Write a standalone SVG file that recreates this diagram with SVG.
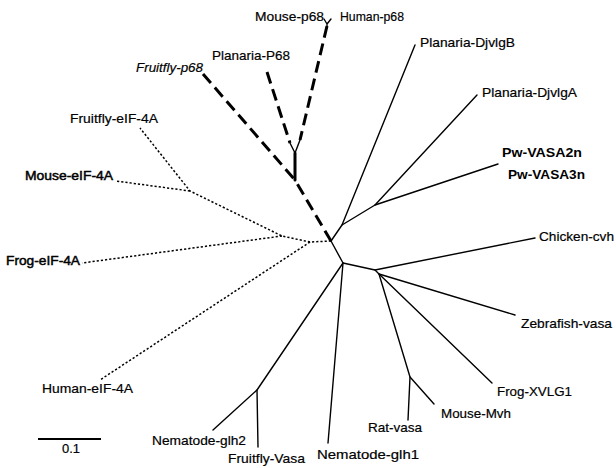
<svg xmlns="http://www.w3.org/2000/svg" width="616" height="468" viewBox="0 0 616 468">
<style>
.s{fill:none;stroke:#000;stroke-width:1.4;stroke-linecap:round;stroke-linejoin:round}
.d{fill:none;stroke:#000;stroke-width:1.5;stroke-dasharray:2.2 2}
.h{fill:none;stroke:#000;stroke-width:3;stroke-dasharray:12 6}
.hs{fill:none;stroke:#000;stroke-width:3;stroke-linecap:round}
text{font-family:"Liberation Sans",Arial,sans-serif;font-size:13.5px;fill:#000;stroke:#000;stroke-width:0.2}
.b{font-weight:bold;stroke-width:0}
.m{stroke-width:0.5}
.i{font-style:italic}
</style>
<rect width="616" height="468" fill="#fff"/>
<g id="connectors">
<path class="d" d="M331,241 L310,242 L282,236 L190,191 L140,128"/>
<path class="d" d="M190,191 L116,181"/>
<path class="d" d="M282,236 L82,263"/>
<path class="d" d="M310,242 L100,380"/>
<path class="h" d="M331,241 L295,180"/>
<path class="h" d="M203,74 L295,180"/>
<path class="hs" d="M295,180 L295,153"/>
<path class="h" d="M267,72 L290,143"/>
<path class="h" d="M327,26 L300,140"/>
<path class="s" d="M290,143 L295,153 L300,140"/>
<path class="s" d="M324,19 L327,24 L331,19 M327,24 L327,28"/>
<path class="s" d="M331,241 L342,225 L415,45"/>
<path class="s" d="M342,225 L375,205 L477,95"/>
<path class="s" d="M375,205 L498,164"/>
<path class="s" d="M331,241 L343,263 L328,443"/>
<path class="s" d="M343,263 L257,390 L213,430"/>
<path class="s" d="M257,390 L258,447"/>
<path class="s" d="M343,263 L375,270 L535,238"/>
<path class="s" d="M375,270 L379,274 L515,315"/>
<path class="s" d="M379,274 L492,383"/>
<path class="s" d="M379,274 L410,377 L408,420"/>
<path class="s" d="M410,377 L434,404"/>
</g>
<g id="n-fruitfly-p68"><text class="i" x="136" y="72" textLength="67" lengthAdjust="spacingAndGlyphs">Fruitfly-p68</text></g>
<g id="n-mouse-p68"><text x="255" y="21" textLength="69" lengthAdjust="spacingAndGlyphs">Mouse-p68</text></g>
<g id="n-human-p68"><text x="340" y="21" textLength="64" lengthAdjust="spacingAndGlyphs">Human-p68</text></g>
<g id="n-planaria-p68"><text x="212" y="60" textLength="78" lengthAdjust="spacingAndGlyphs">Planaria-P68</text></g>
<g id="n-djvlgb"><text x="420" y="47" textLength="95" lengthAdjust="spacingAndGlyphs">Planaria-DjvlgB</text></g>
<g id="n-djvlga"><text x="482" y="97" textLength="95" lengthAdjust="spacingAndGlyphs">Planaria-DjvlgA</text></g>
<g id="n-pw2"><text class="b" x="502" y="157" textLength="80" lengthAdjust="spacingAndGlyphs">Pw-VASA2n</text></g>
<g id="n-pw3"><text class="b" x="508" y="179" textLength="77" lengthAdjust="spacingAndGlyphs">Pw-VASA3n</text></g>
<g id="n-chicken"><text x="539" y="241" textLength="75" lengthAdjust="spacingAndGlyphs">Chicken-cvh</text></g>
<g id="n-zebrafish"><text x="521" y="328" textLength="91" lengthAdjust="spacingAndGlyphs">Zebrafish-vasa</text></g>
<g id="n-frog-xvlg1"><text x="497" y="396" textLength="75" lengthAdjust="spacingAndGlyphs">Frog-XVLG1</text></g>
<g id="n-mouse-mvh"><text x="441" y="418" textLength="70" lengthAdjust="spacingAndGlyphs">Mouse-Mvh</text></g>
<g id="n-rat-vasa"><text x="368" y="432" textLength="54" lengthAdjust="spacingAndGlyphs">Rat-vasa</text></g>
<g id="n-glh1"><text x="317" y="459" textLength="102" lengthAdjust="spacingAndGlyphs">Nematode-glh1</text></g>
<g id="n-fruitfly-vasa"><text x="228" y="463" textLength="77" lengthAdjust="spacingAndGlyphs">Fruitfly-Vasa</text></g>
<g id="n-glh2"><text x="152" y="445" textLength="94" lengthAdjust="spacingAndGlyphs">Nematode-glh2</text></g>
<g id="n-human-eif"><text x="42" y="393" textLength="91" lengthAdjust="spacingAndGlyphs">Human-eIF-4A</text></g>
<g id="n-frog-eif"><text class="m" x="6" y="265" textLength="74" lengthAdjust="spacingAndGlyphs">Frog-eIF-4A</text></g>
<g id="n-mouse-eif"><text class="m" x="25" y="180" textLength="88" lengthAdjust="spacingAndGlyphs">Mouse-eIF-4A</text></g>
<g id="n-fruitfly-eif"><text x="70" y="123" textLength="88" lengthAdjust="spacingAndGlyphs">Fruitfly-eIF-4A</text></g>
<g id="scale">
<line x1="38" y1="439" x2="101" y2="439" stroke="#000" stroke-width="1.8"/>
<text x="62" y="453" textLength="18" lengthAdjust="spacingAndGlyphs">0.1</text>
</g>
</svg>
